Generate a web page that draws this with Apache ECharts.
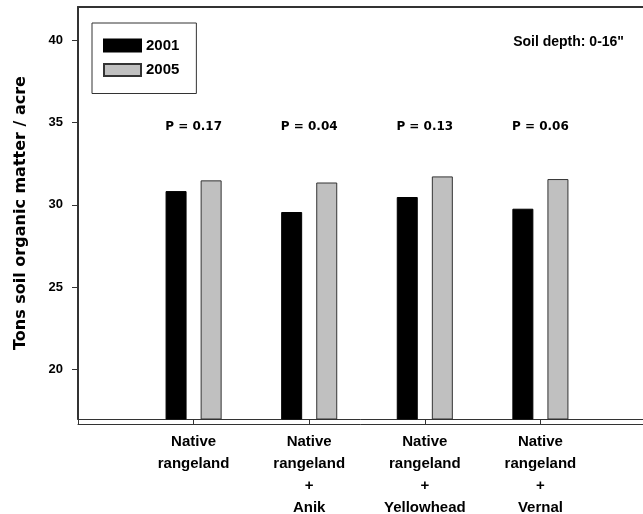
<!DOCTYPE html>
<html><head><meta charset="utf-8">
<script src="https://cdn.jsdelivr.net/npm/echarts@6/dist/echarts.min.js"></script>
<style>html,body{margin:0;padding:0;background:#fff}#c{width:643px;height:514px}</style>
</head><body><div id="c"></div>
<script>
const categories = ['', 'Native\nrangeland', 'Native\nrangeland\n+\nAnik', 'Native\nrangeland\n+\nYellowhead', 'Native\nrangeland\n+\nVernal', ''];
const values2001 = [null, 30.83, 29.56, 30.47, 29.76, null];
const values2005 = [null, 31.48, 31.35, 31.72, 31.56, null];
const pLabels = [null, 'P = 0.17', 'P = 0.04', 'P = 0.13', 'P = 0.06', null];
const yTicks = [20, 25, 30, 35, 40];
const yTitle = 'Tons soil organic matter / acre';
const noteText = 'Soil depth: 0-16"';
const pLevel = 34.74;

const LIB = 'Liberation Sans';
const DJ = 'DejaVu Sans';
const chart = echarts.init(document.getElementById('c'), null, {renderer: 'canvas'});
chart.setOption({
  animation: false,
  backgroundColor: '#fff',
  title: {
    text: noteText, right: 19, top: 35, padding: 0,
    textStyle: {fontFamily: LIB, fontWeight: 'bold', fontSize: 14, color: '#000'}
  },
  legend: {
    data: ['2001', '2005'], orient: 'vertical', left: 92, top: 23, icon: 'rect',
    padding: [15, 17, 16, 11], itemWidth: 37, itemHeight: 12, itemGap: 9.5,
    borderColor: '#333', borderWidth: 1,
    textStyle: {fontFamily: LIB, fontWeight: 'bold', fontSize: 15, color: '#000', lineHeight: 12}
  },
  grid: {left: 78, top: 7, width: 578, height: 412, outerBoundsMode: 'none', containLabel: false},
  xAxis: [{
    type: 'category', data: categories, boundaryGap: false, position: 'bottom',
    axisLine: {show: true, lineStyle: {color: '#333', width: 1}},
    axisTick: {show: true, length: 6, interval: 0, lineStyle: {color: '#333', width: 1}},
    axisLabel: {interval: 0, margin: 12, lineHeight: 22, fontFamily: LIB, fontWeight: 'bold', fontSize: 15, color: '#000'},
    splitLine: {show: false}
  }, {
    type: 'category', data: categories, boundaryGap: false, position: 'bottom', offset: 5,
    axisLine: {show: true, lineStyle: {color: '#333', width: 1}},
    axisTick: {show: false}, axisLabel: {show: false}, splitLine: {show: false}
  }, {
    type: 'category', data: categories, boundaryGap: false, position: 'top',
    axisLine: {show: true, lineStyle: {color: '#333', width: 2}},
    axisTick: {show: false}, axisLabel: {show: false}, splitLine: {show: false}
  }],
  yAxis: {
    type: 'value', min: 17, max: 42,
    name: yTitle, nameLocation: 'middle', nameRotate: 90, nameGap: 49,
    nameTextStyle: {fontFamily: DJ, fontWeight: 'bold', fontSize: 16, color: '#000'},
    axisLine: {show: true, lineStyle: {color: '#333', width: 2}},
    axisTick: {show: true, length: 6, customValues: yTicks, lineStyle: {color: '#333', width: 1}},
    axisLabel: {customValues: yTicks, margin: 15, fontFamily: LIB, fontWeight: 'bold', fontSize: 13, color: '#000'},
    splitLine: {show: false}
  },
  series: [{
    name: '2001', type: 'bar', data: values2001, barWidth: 21, barGap: '67%',
    itemStyle: {color: '#000', borderColor: '#000', borderWidth: 1}
  }, {
    name: '2005', type: 'bar', data: values2005, barWidth: 21,
    itemStyle: {color: '#c0c0c0', borderColor: '#333', borderWidth: 1}
  }, {
    name: 'p', type: 'scatter', symbolSize: 1,
    data: pLabels.map(p => p ? pLevel : null),
    itemStyle: {color: 'rgba(0,0,0,0)', opacity: 1},
    label: {show: true, position: 'inside', formatter: p => pLabels[p.dataIndex] || '',
      fontFamily: DJ, fontWeight: 'bold', fontSize: 12, color: '#000', opacity: 1},
    silent: true
  }]
});
</script></body></html>
